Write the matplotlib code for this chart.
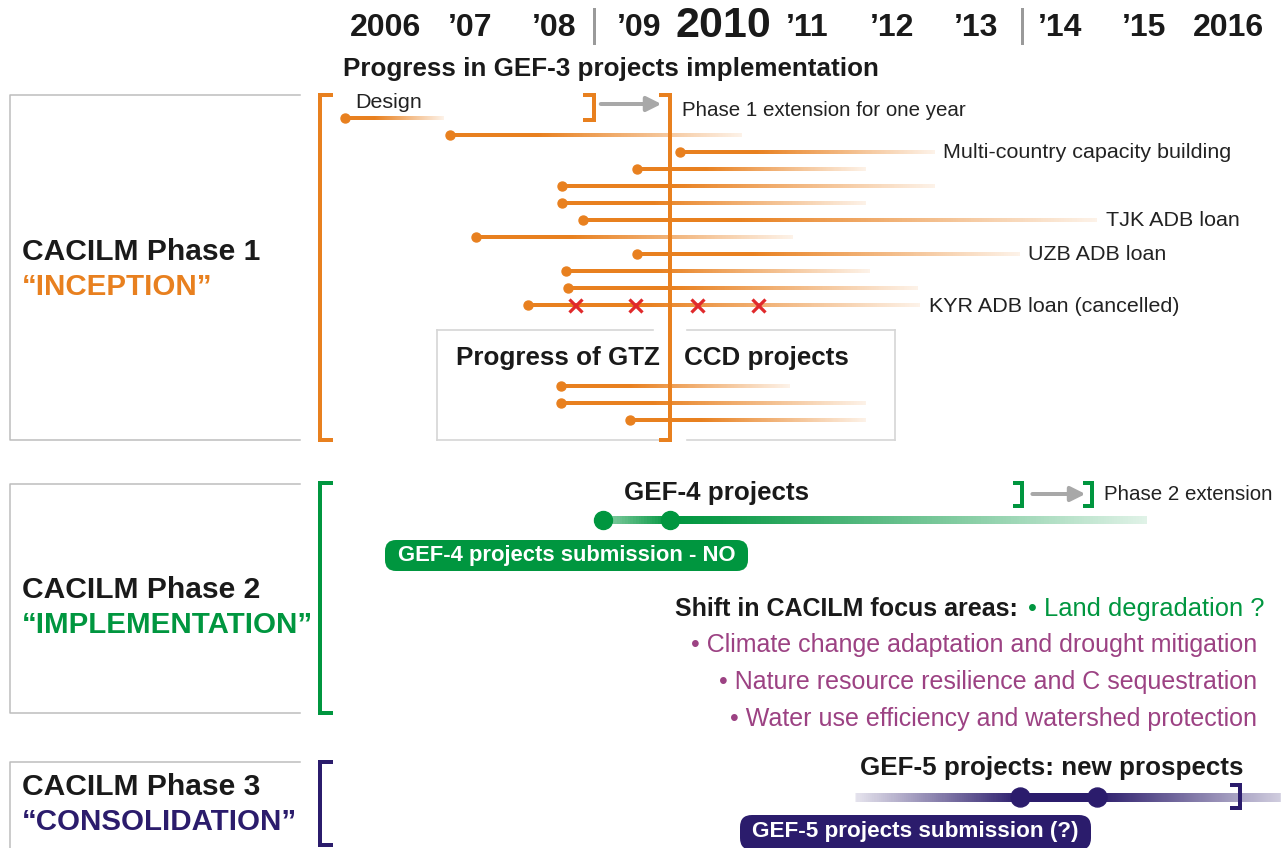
import matplotlib.pyplot as plt
import numpy as np
from matplotlib.collections import LineCollection
from matplotlib.colors import to_rgba
from matplotlib.patches import FancyBboxPatch

plt.rcParams['font.family'] = ['Liberation Sans', 'DejaVu Sans']

ORANGE = '#E8801F'
GREEN = '#00963F'
NAVY = '#2B1C6C'
PURPLE = '#9C4283'
RED = '#E0292B'
GREY = '#A8A8A8'

# timeline
years = list(range(2006, 2017))
year_labels = ['2006', '\u201907', '\u201908', '\u201909', '2010', '\u201911',
               '\u201912', '\u201913', '\u201914', '\u201915', '2016']

# GEF-3 projects: start year and year where the bar has faded out
gef3_start = [2005.52, 2006.76, 2009.49, 2008.98, 2008.09, 2008.09,
              2008.34, 2007.07, 2008.98, 2008.14, 2008.16, 2007.69]
gef3_end = [2006.69, 2010.23, 2012.51, 2011.70, 2012.51, 2011.70,
            2014.44, 2010.83, 2013.52, 2011.74, 2012.31, 2012.34]
gef3_labels = ['', '', 'Multi-country capacity building', '', '', '',
               'TJK ADB loan', '', 'UZB ADB loan', '', '', 'KYR ADB loan (cancelled)']
kyr_cancelled = [2008.24, 2008.96, 2009.69, 2010.42]

# GTZ CCD projects
gtz_start = [2008.08, 2008.08, 2008.90]
gtz_end = [2010.79, 2011.70, 2011.70]

# phase ends / extensions
phase1_end, phase1_ext = 2008.47, 2009.37
phase2_end, phase2_ext = 2013.55, 2014.38

# GEF-4 / GEF-5
gef4_dots = [2008.58, 2009.37]
gef4_end = 2015.03
gef5_dots = [2013.52, 2014.44]
gef5_span = [2011.57, 2016.61]
gef5_end = 2016.13

focus_areas = ['Climate change adaptation and drought mitigation',
               'Nature resource resilience and C sequestration',
               'Water use efficiency and watershed protection']


def pt(px):
    return px * 0.72


def fade_line(ax, knots, alphas, y, color, lw, n=200, z=2):
    # opaque colours blended toward white, segments overlap a little to avoid seams
    xs = np.linspace(knots[0], knots[-1], n + 1)
    step = xs[1] - xs[0]
    mids = (xs[:-1] + xs[1:]) / 2
    a = np.interp(mids, knots, alphas)
    base = np.array(to_rgba(color))
    cols = [tuple(base[:3] * ai + (1 - ai)) + (1,) for ai in a]
    segs = [[(xs[i], y), (min(xs[i + 1] + step * 0.8, xs[-1]), y)] for i in range(n)]
    ax.add_collection(LineCollection(segs, colors=cols, linewidths=lw,
                                     capstyle='butt', zorder=z))


def close_bracket(ax, x, y0, y1, color, hook=0.11, lw=pt(4)):
    ax.plot([x - hook, x, x, x - hook], [y0, y0, y1, y1], color=color,
            lw=lw, solid_joinstyle='miter', zorder=5)


fig = plt.figure(figsize=(12.84, 8.48), dpi=100)
# layout axes in pixels
axl = fig.add_axes([0, 0, 1, 1])
axl.set_xlim(0, 1284)
axl.set_ylim(848, 0)
axl.axis('off')
# timeline axes: x in years, y in pixels
ax = fig.add_axes([0, 0, 1, 1])
ax.set_xlim(2006 - 385.8 / 84.3, 2006 + (1284 - 385.8) / 84.3)
ax.set_ylim(848, 0)
ax.axis('off')

# year header
for yr, lab in zip(years, year_labels):
    big = yr == 2010
    ax.text(yr, 26 if big else 28, lab, ha='center', va='center',
            fontsize=pt(43) if big else pt(32), fontweight='bold', color='#1a1a1a')
for xd in [phase1_end, phase2_end]:
    ax.plot([xd, xd], [9, 43], color='#9a9a9a', lw=pt(3))

axl.text(343, 69, 'Progress in GEF-3 projects implementation', ha='left', va='center',
         fontsize=pt(26), fontweight='bold', color='#1a1a1a')

# phase boxes and brackets
box_rows = [(95, 440), (484, 713), (762, 860)]
bracket_rows = [(95, 440), (483, 713), (762, 845)]
phase_cols = [ORANGE, GREEN, NAVY]
phase_names = ['CACILM Phase 1', 'CACILM Phase 2', 'CACILM Phase 3']
phase_tags = ['\u201cINCEPTION\u201d', '\u201cIMPLEMENTATION\u201d', '\u201cCONSOLIDATION\u201d']
phase_text_y = [252, 590, 787]
for (t, b), (bt, bb), col, nm, tag, ty in zip(box_rows, bracket_rows, phase_cols,
                                              phase_names, phase_tags, phase_text_y):
    axl.plot([300, 10, 10, 300], [t, t, b, b], color='#bdbdbd', lw=1.1)
    axl.plot([331, 320, 320, 331], [bt, bt, bb, bb], color=col, lw=pt(4),
             solid_joinstyle='miter')
    axl.text(22, ty, nm, ha='left', va='center', fontsize=pt(30),
             fontweight='bold', color='#1a1a1a')
    axl.text(22, ty + 35, tag, ha='left', va='center', fontsize=pt(29.5),
             fontweight='bold', color=col)

# GEF-3 bars
for i, (s, e, lab) in enumerate(zip(gef3_start, gef3_end, gef3_labels)):
    y = 118 + 17 * i
    fade_line(ax, [s, s + 0.3 * (e - s), e], [1, 1, 0.1], y, ORANGE, pt(4))
    ax.plot(s, y, 'o', color=ORANGE, ms=pt(9), zorder=3)
    if lab:
        ax.text(e + 0.1, y + 1, lab, ha='left', va='center', fontsize=pt(21.5),
                color='#222222')
ax.plot(kyr_cancelled, [118 + 17 * 11] * len(kyr_cancelled), 'x', color=RED,
        ms=pt(13), mew=pt(3.2), zorder=6)
ax.text(gef3_start[0] + 0.12, 102, 'Design', ha='left', va='center',
        fontsize=pt(21.5), color='#222222')

# phase 1 extension
close_bracket(ax, phase1_end, 95, 120, ORANGE)
ax.annotate('', xy=(phase1_ext - 0.1, 104), xytext=(phase1_end + 0.08, 104),
            arrowprops=dict(arrowstyle='-|>', color=GREY, lw=pt(4), mutation_scale=22,
                            shrinkA=0, shrinkB=0), zorder=5)
close_bracket(ax, phase1_ext, 95, 440, ORANGE)
ax.text(phase1_ext + 0.14, 110, 'Phase 1 extension for one year', ha='left',
        va='center', fontsize=pt(20.5), color='#222222')

# GTZ box
for seg in [([437, 653], [330, 330]), ([687, 895], [330, 330]),
            ([437, 659], [440, 440]), ([687, 895], [440, 440]),
            ([437, 437], [330, 440]), ([895, 895], [330, 440])]:
    axl.plot(*seg, color='#d6d6d6', lw=1.2)
axl.text(660, 358, 'Progress of GTZ', ha='right', va='center', fontsize=pt(26),
         fontweight='bold', color='#1a1a1a')
axl.text(684, 358, 'CCD projects', ha='left', va='center', fontsize=pt(26),
         fontweight='bold', color='#1a1a1a')
for i, (s, e) in enumerate(zip(gtz_start, gtz_end)):
    y = 386 + 17 * i
    fade_line(ax, [s, s + 0.3 * (e - s), e], [1, 1, 0.1], y, ORANGE, pt(4))
    ax.plot(s, y, 'o', color=ORANGE, ms=pt(9), zorder=3)

# GEF-4
ax.text(np.mean([gef4_dots[1], gef4_dots[1] + 1.1]), 493, 'GEF-4 projects', ha='center',
        va='center', fontsize=pt(26), fontweight='bold', color='#1a1a1a')
fade_line(ax, [gef4_dots[0], gef4_dots[1], gef4_dots[1] + 0.6, gef4_end],
          [0.45, 1, 0.95, 0.12], 520, GREEN, pt(8))
ax.plot(gef4_dots, [520, 520], 'o', color=GREEN, ms=pt(18), zorder=4)
close_bracket(ax, phase2_end, 483, 506, GREEN, hook=0.09)
ax.annotate('', xy=(phase2_ext - 0.08, 494), xytext=(phase2_end + 0.12, 494),
            arrowprops=dict(arrowstyle='-|>', color=GREY, lw=pt(4), mutation_scale=22,
                            shrinkA=0, shrinkB=0), zorder=5)
close_bracket(ax, phase2_ext, 483, 506, GREEN, hook=0.09)
ax.text(phase2_ext + 0.14, 494, 'Phase 2 extension', ha='left', va='center',
        fontsize=pt(20.5), color='#222222')
axl.add_patch(FancyBboxPatch((385, 540), 363, 31, boxstyle='round,pad=0,rounding_size=11',
                             fc=GREEN, ec='none', zorder=3))
axl.text(567, 556, 'GEF-4 projects submission - NO', ha='center', va='center',
         fontsize=pt(22), fontweight='bold', color='white', zorder=4)

# focus areas
axl.text(675, 609, 'Shift in CACILM focus areas:', ha='left', va='center',
         fontsize=pt(25), fontweight='bold', color='#1a1a1a')
axl.text(1264, 609, '\u2022 Land degradation ?', ha='right', va='center',
         fontsize=pt(25.5), color=GREEN)
for i, area in enumerate(focus_areas):
    axl.text(1257, 645 + 37 * i, '\u2022 ' + area, ha='right', va='center',
             fontsize=pt(25), color=PURPLE)

# GEF-5
axl.text(860, 768, 'GEF-5 projects: new prospects', ha='left', va='center',
         fontsize=pt(26), fontweight='bold', color='#1a1a1a')
fade_line(ax, [gef5_span[0], gef5_dots[0], gef5_dots[1], gef5_span[1]],
          [0.12, 1, 1, 0.22], 797, NAVY, pt(9))
ax.plot(gef5_dots, [797, 797], 'o', color=NAVY, ms=pt(19), zorder=4)
close_bracket(ax, gef5_end, 785, 808, NAVY, hook=0.09)
axl.add_patch(FancyBboxPatch((740, 815), 351, 35, boxstyle='round,pad=0,rounding_size=12',
                             fc=NAVY, ec='none', zorder=3))
axl.text(915, 832, 'GEF-5 projects submission (?)', ha='center', va='center',
         fontsize=pt(22.5), fontweight='bold', color='white', zorder=4)

fig.savefig('out.png', dpi=100, facecolor='white')
plt.close(fig)
